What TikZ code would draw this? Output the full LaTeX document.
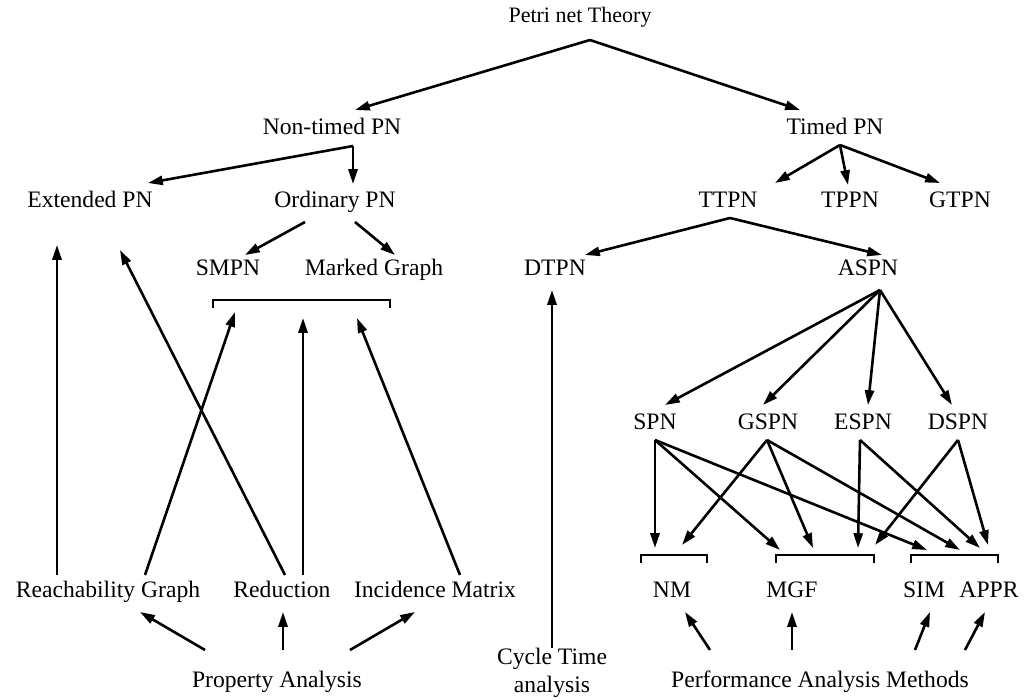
\documentclass[tikz,border=0pt]{standalone}
\usepackage{fontspec}
\setmainfont{Liberation Serif}
\usetikzlibrary{arrows.meta}

\begin{document}
\begin{tikzpicture}[
    x=0.5pt, y=-0.5pt,
    arrow/.style={-{Triangle[length=2.6mm, width=1.6mm]}, line width=1.3pt},
    bracket/.style={line width=0.7pt},
    label/.style={font=\fontsize{11.8}{14}\selectfont, inner sep=1pt, align=center,
        text height=0.72em, text depth=0.24em, yshift=-1.3pt}
]
    \useasboundingbox (0,0) rectangle (1030,700);

    % === Labels ===
    \node[label, font=\fontsize{11}{13}\selectfont] (theory) at (580, 15) {Petri net Theory};
    \node[label] (nontimed) at (332, 127) {Non-timed PN};
    \node[label] (timed) at (835, 127) {Timed PN};
    \node[label] (extended) at (90, 200) {Extended PN};
    \node[label] (ordinary) at (335, 200) {Ordinary PN};
    \node[label] (ttpn) at (728, 200) {TTPN};
    \node[label] (tppn) at (850, 200) {TPPN};
    \node[label] (gtpn) at (960, 200) {GTPN};
    \node[label] (smpn) at (228, 268) {SMPN};
    \node[label] (marked) at (374, 268) {Marked Graph};
    \node[label] (dtpn) at (555, 268) {DTPN};
    \node[label] (aspn) at (868, 268) {ASPN};
    \node[label] (spn) at (655, 422) {SPN};
    \node[label] (gspn) at (768, 422) {GSPN};
    \node[label] (espn) at (863, 422) {ESPN};
    \node[label] (dspn) at (958, 422) {DSPN};
    \node[label] (nm) at (672, 590) {NM};
    \node[label] (mgf) at (792, 590) {MGF};
    \node[label] (sim) at (924, 590) {SIM};
    \node[label] (appr) at (989, 590) {APPR};
    \node[label] (reach) at (108, 590) {Reachability Graph};
    \node[label] (reduc) at (282, 590) {Reduction};
    \node[label] (incid) at (435, 590) {Incidence Matrix};
    \node[label] (prop) at (277, 680) {Property Analysis};
    \node[label, inner sep=0pt, text height=, text depth=, yshift=1.3pt] (cycle) at (552, 673) {Cycle Time\\analysis};
    \node[label] (perf) at (820, 680) {Performance Analysis Methods};

    % === Brackets ===
    \coordinate (bsl) at (213, 300);
    \coordinate (bsr) at (390, 300);
    \draw[bracket] ([yshift=-4]bsl) -- (bsl) -- (bsr) -- ([yshift=-4]bsr);
    \coordinate (bnl) at (641, 555);
    \coordinate (bnr) at (707, 555);
    \draw[bracket] ([yshift=-4]bnl) -- (bnl) -- (bnr) -- ([yshift=-4]bnr);
    \coordinate (bml) at (776, 555);
    \coordinate (bmr) at (874, 555);
    \draw[bracket] ([yshift=-4]bml) -- (bml) -- (bmr) -- ([yshift=-4]bmr);
    \coordinate (bal) at (911, 555);
    \coordinate (bar) at (998, 555);
    \draw[bracket] ([yshift=-4]bal) -- (bal) -- (bar) -- ([yshift=-4]bar);

    % === Tree of net classes ===
    \coordinate (theory-s) at (590, 40);
    \draw[arrow] (theory-s) -- (355, 110) coordinate (nontimed-n);
    \draw[arrow] (theory-s) -- (800, 110) coordinate (timed-n);

    \coordinate (nontimed-s) at (353, 146);
    \draw[arrow] (nontimed-s) -- (148, 183) coordinate (extended-n);
    \draw[arrow] (nontimed-s) -- (353, 184) coordinate (ordinary-n);

    \coordinate (timed-s) at (840, 145);
    \draw[arrow] (timed-s) -- (775, 183) coordinate (ttpn-n);
    \draw[arrow] (timed-s) -- (848, 185) coordinate (tppn-n);
    \draw[arrow] (timed-s) -- (940, 183) coordinate (gtpn-n);

    \draw[arrow] (305, 222) coordinate (ordinary-sw) -- (245, 255) coordinate (smpn-n);
    \draw[arrow] (355, 222) coordinate (ordinary-se) -- (395, 255) coordinate (marked-n);

    \coordinate (ttpn-s) at (730, 218);
    \draw[arrow] (ttpn-s) -- (585, 255) coordinate (dtpn-n);
    \draw[arrow] (ttpn-s) -- (882, 255) coordinate (aspn-n);

    \coordinate (aspn-s) at (880, 290);
    \draw[arrow] (aspn-s) -- (665, 405) coordinate (spn-n);
    \draw[arrow] (aspn-s) -- (763, 405) coordinate (gspn-n);
    \draw[arrow] (aspn-s) -- (868, 405) coordinate (espn-n);
    \draw[arrow] (aspn-s) -- (952, 405) coordinate (dspn-n);

    % === Stochastic nets to methods ===
    \coordinate (spn-s) at (655, 440);
    \draw[arrow] (spn-s) -- (655, 548);
    \draw[arrow] (spn-s) -- (780, 550);
    \draw[arrow] (spn-s) -- (927, 550);
    \coordinate (gspn-s) at (767, 440);
    \draw[arrow] (gspn-s) -- (682, 545);
    \draw[arrow] (gspn-s) -- (813, 548);
    \draw[arrow] (gspn-s) -- (960, 550);
    \coordinate (espn-s) at (860, 440);
    \draw[arrow] (espn-s) -- (858, 548);
    \draw[arrow] (espn-s) -- (980, 548);
    \coordinate (dspn-s) at (958, 440);
    \draw[arrow] (dspn-s) -- (875, 545);
    \draw[arrow] (dspn-s) -- (988, 545);

    % === Analysis techniques ===
    \draw[arrow] (57, 575) coordinate (reach-nw) -- (57, 245) coordinate (extended-sw);
    \draw[arrow] (145, 575) coordinate (reach-ne) -- (235, 312);
    \draw[arrow] (285, 575) coordinate (reduc-nw) -- (120, 250) coordinate (extended-se);
    \draw[arrow] (303, 575) coordinate (reduc-n) -- (303, 318);
    \draw[arrow] (460, 575) coordinate (incid-n) -- (357, 318);
    \draw[arrow] (cycle.north) -- (552, 290) coordinate (dtpn-s);

    % === Bottom goals ===
    \draw[arrow] (205, 650) -- (140, 612);
    \draw[arrow] (283, 650) -- (283, 612);
    \draw[arrow] (350, 650) -- (415, 612);
    \draw[arrow] (710, 650) -- (685, 612);
    \draw[arrow] (792, 650) -- (792, 612);
    \draw[arrow] (915, 650) -- (930, 612);
    \draw[arrow] (965, 650) -- (985, 612);

\end{tikzpicture}
\end{document}
